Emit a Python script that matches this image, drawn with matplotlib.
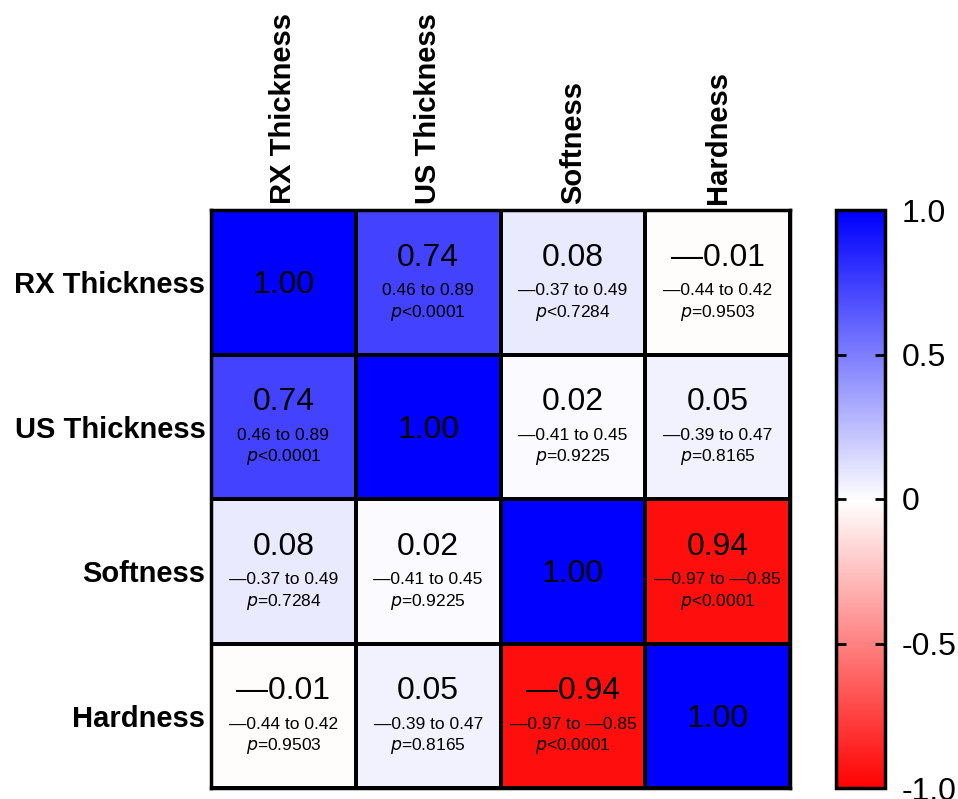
import numpy as np
import matplotlib
matplotlib.use("Agg")
import matplotlib.pyplot as plt
from matplotlib.colors import LinearSegmentedColormap

plt.rcParams["font.family"] = ["Liberation Sans", "DejaVu Sans"]

# Pearson correlation matrix
variables = ["RX Thickness", "US Thickness", "Softness", "Hardness"]
r_values = [
    [1.00, 0.74, 0.08, -0.01],
    [0.74, 1.00, 0.02, 0.05],
    [0.08, 0.02, 1.00, -0.94],
    [-0.01, 0.05, -0.94, 1.00],
]
# numbers printed in each cell
r_labels = [
    ["1.00", "0.74", "0.08", "\u20140.01"],
    ["0.74", "1.00", "0.02", "0.05"],
    ["0.08", "0.02", "1.00", "0.94"],
    ["\u20140.01", "0.05", "\u20140.94", "1.00"],
]
ci_labels = [
    [None, "0.46 to 0.89", "\u20140.37 to 0.49", "\u20140.44 to 0.42"],
    ["0.46 to 0.89", None, "\u20140.41 to 0.45", "\u20140.39 to 0.47"],
    ["\u20140.37 to 0.49", "\u20140.41 to 0.45", None, "\u20140.97 to \u20140.85"],
    ["\u20140.44 to 0.42", "\u20140.39 to 0.47", "\u20140.97 to \u20140.85", None],
]
p_labels = [
    [None, "<0.0001", "<0.7284", "=0.9503"],
    ["<0.0001", None, "=0.9225", "=0.8165"],
    ["=0.7284", "=0.9225", None, "<0.0001"],
    ["=0.9503", "=0.8165", "<0.0001", None],
]
cbar_ticks = [-1.0, -0.5, 0, 0.5, 1.0]
cbar_ticklabels = ["-1.0", "-0.5", "0", "0.5", "1.0"]

cmap = LinearSegmentedColormap.from_list("rwb", ["#ff0000", "#ffffff", "#0000ff"])

fig = plt.figure(figsize=(9.58, 7.99), dpi=100)
ax = fig.add_axes([211 / 958, 11 / 799, 579 / 958, 578 / 799])
cax = fig.add_axes([836 / 958, 11 / 799, 49 / 958, 578 / 799])

data = np.array(r_values)
n = len(variables)
mesh = ax.pcolormesh(data, cmap=cmap, vmin=-1, vmax=1,
                     edgecolors="black", linewidth=1.5)
ax.set_xlim(0, n)
ax.set_ylim(n, 0)

for i in range(n):
    for j in range(n):
        if ci_labels[i][j] is None:
            ax.text(j + 0.5, i + 0.52, r_labels[i][j], ha="center", va="center",
                    fontsize=23)
            continue
        ax.text(j + 0.5, i + 0.33, r_labels[i][j], ha="center", va="center",
                fontsize=23)
        ax.text(j + 0.5, i + 0.56, ci_labels[i][j], ha="center", va="center",
                fontsize=12.5)
        ax.text(j + 0.5, i + 0.71, "$\\it{p}$" + p_labels[i][j], ha="center",
                va="center", fontsize=12.5)

ax.set_xticks(np.arange(n) + 0.5)
ax.set_yticks(np.arange(n) + 0.5)
ax.set_xticklabels(variables, rotation=90, fontsize=21, fontweight="bold")
ax.set_yticklabels(variables, fontsize=21, fontweight="bold")
ax.xaxis.tick_top()
ax.tick_params(length=0, pad=4)
for spine in ax.spines.values():
    spine.set_linewidth(2.5)

cb = fig.colorbar(mesh, cax=cax, ticks=cbar_ticks)
cb.ax.set_yticklabels(cbar_ticklabels, fontsize=23)
cb.outline.set_linewidth(2.5)
cb.ax.tick_params(direction="in", length=7, width=2, left=True, right=True,
                  pad=12)
cb.solids.set_edgecolor("face")

fig.savefig("out.png", dpi=100)
